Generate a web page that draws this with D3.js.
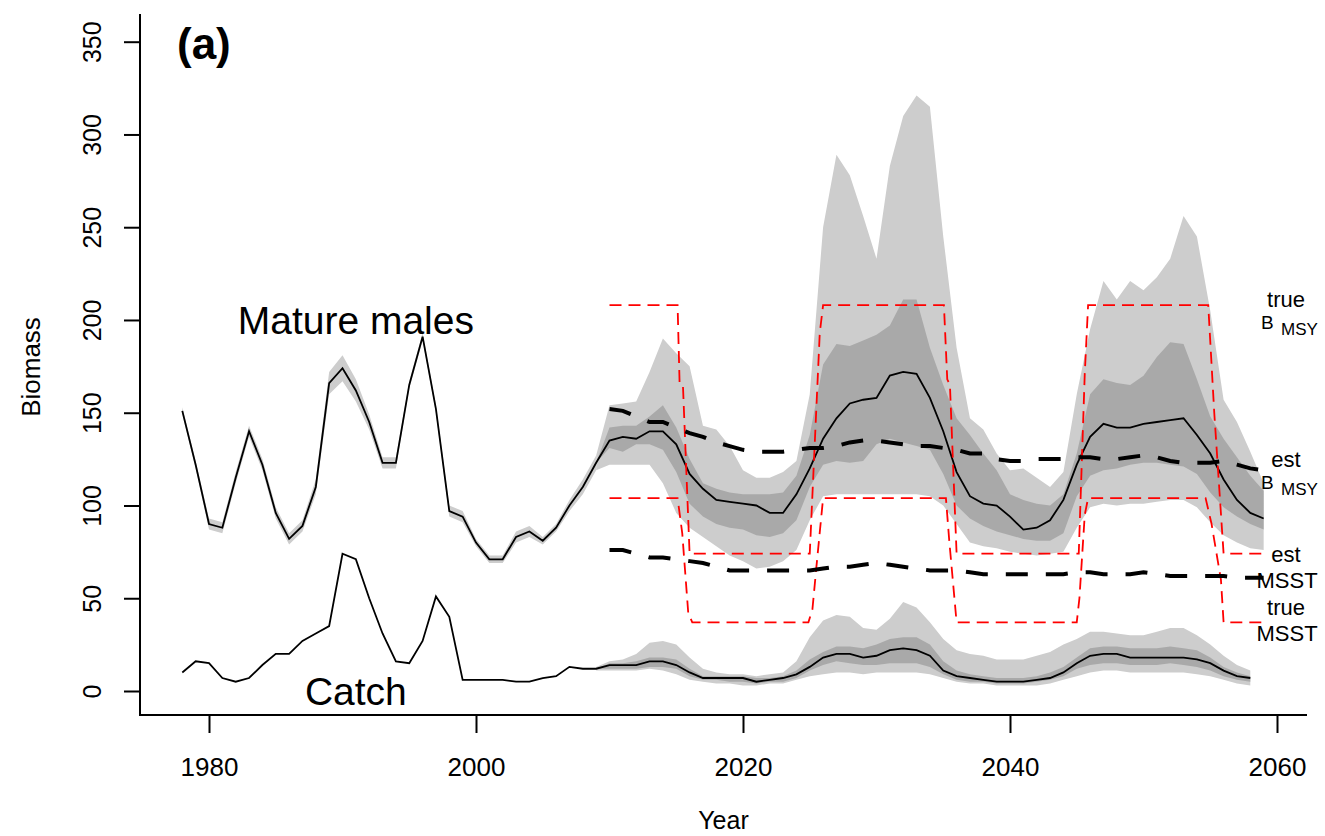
<!DOCTYPE html>
<html>
<head>
<meta charset="utf-8">
<script src="https://cdn.jsdelivr.net/npm/d3@7"></script>
<style>
  body { margin: 0; background: #fff; }
  svg { display: block; font-family: "Liberation Sans", Arial, sans-serif; }
</style>
</head>
<body>
<svg width="1325" height="836"></svg>
<script>
// ---- historical period (1978-2009) ----
const histYears = d3.range(1978, 2010);
const histMales = [151,122,90,88,115,140,122,96,82,89,110,166,174,162,145,123,123,165,191,152,97,94,80,71,71,83,86,81,88,100,110,123];
const histSpread = [2,2,3,3,3,3,3,3,3,3,4,6,7,6,4,3,3,2,2,2,3,3,2,2,2,3,3,2,2,3,4,4];
const histCatch = [10,16,15,7,5,7,14,20,20,27,31,35,74,71,50,31,16,15,27,51,40,6,6,6,6,5,5,7,8,13,12,12];

// ---- projections, mature males (2010-2059) ----
const projYears = d3.range(2010, 2060);
const maleMed  = [135,137,136,140,140,133,117,109,103,102, 101,100,96,96,106,120,136,147,155,157, 158,170,172,171,158,140,118,105,101,100, 94,87,88,92,103,122,137,144,142,142, 144,145,146,147,138,128,114,103,96,93];
const maleHi95 = [154,155,156,172,190,182,175,143,141,132, 119,115,115,118,124,160,250,289,278,256, 233,283,310,321,315,245,185,147,141,128, 119,120,115,110,118,160,195,221,211,221, 216,223,233,256,245,205,157,145,129,112];
const maleHi50 = [142,143,143,148,154,142,125,112,109,107, 106,106,106,107,116,138,176,187,186,189, 192,197,211,211,185,165,147,138,128,119, 106,103,101,100,106,128,160,168,166,165, 170,180,188,187,168,148,136,126,116,108];
const maleLo50 = [131,129,133,133,130,118,101,94,90,88, 87,84,83,85,92,110,122,124,123,124, 133,136,134,132,130,117,100,93,89,86, 84,82,81,81,85,105,116,119,120,122, 123,123,122,121,117,107,99,94,90,87];
const maleLo95 = [122,122,122,122,112,96,88,83,78,73, 70,66,67,70,76,92,105,106,106,106, 106,106,106,106,105,100,90,80,78,77, 75,74,73,74,75,88,99,101,100,101, 101,102,103,103,99,91,84,80,77,76];

// ---- projections, catch (2010-2058) ----
const catchYears = d3.range(2010, 2059);
const catchMed  = [14,14,14,16,16,14,10,7,7,7, 7,5,6,7,9,13,18,20,20,18, 19,22,23,22,19,11,8,7,6,5, 5,5,6,7,10,15,19,20,20,18, 18,18,18,18,17,15,11,8,7];
const catchHi95 = [16,17,20,26,27,25,18,12,10,9, 9,8,9,10,16,29,38,41,40,34, 33,39,48,45,37,28,22,20,19,17, 17,17,19,21,25,28,32,32,31,30, 30,32,34,34,30,25,19,14,11];
const catchHi50 = [15,15,16,18,18,17,12,8,8,8, 8,7,7,8,11,17,21,24,24,23, 25,28,29,29,25,16,11,9,8,7, 7,7,8,10,13,18,23,24,24,23, 23,23,24,23,22,18,13,10,8];
const catchLo50 = [12,12,12,13,13,12,8,6,6,5, 5,4,5,5,7,11,14,16,15,14, 14,15,15,15,13,9,6,5,5,4, 4,4,5,6,8,12,14,15,15,14, 14,14,15,14,13,11,8,6,5];
const catchLo95 = [11,11,11,12,11,9,6,5,4,4, 3,3,4,4,6,8,9,10,10,9, 10,10,10,10,9,7,5,4,4,3, 3,3,3,4,6,8,10,11,11,10, 10,10,10,10,9,8,6,4,3];

// ---- estimated reference points (black dashed) ----
const estBmsy = [152,151,148,145,145,142,139,137,134,132, 130,129,129,129,130,131,131,132,134,135, 135,134,133,132,132,131,130,128,128,125, 124,124,125,125,125,126,126,125,125,126, 127,126,124,123,123,123,124,122,120,119];
const estMsst = [76,76,74,72,72,71,70,69,67,65, 65,65,65,65,65,65,66,67,67,68, 69,68,67,66,65,65,65,64,63,63, 63,63,63,63,63,64,64,63,63,63, 64,63,62,62,62,62,62,61,61,61];

// ---- true reference points (red dashed, regime shifts) ----
const trueBmsyYears = [2010,2015.1,2015.25,2015.5,2016,2025,2025.75,2026,2035.05,2035.3,2035.5,2036,2045.15,2045.6,2045.85,2054.85,2055.3,2056,2059];
const trueBmsyVals  = [208,208,166,165,74,74,193,208,208,168,165,74,74,171,208,208,150,74,74];
const trueMsstYears = [2010,2015.1,2015.45,2015.9,2016.2,2024.9,2025.2,2025.5,2026,2035.2,2035.45,2036,2045,2045.2,2045.6,2045.85,2054.65,2055.1,2055.8,2056,2059];
const trueMsstVals  = [104,104,85,42,37,37,44,67,104,104,81,37,37,50,95,104,104,90,60,37,37];

// right-hand labels
const refLabels = [
  {sup: "true", main: "B", sub: "MSY", val: 203},
  {sup: "est",  main: "B", sub: "MSY", val: 117},
  {sup: "est",  main: "",  sub: "MSST", val: 66},
  {sup: "true", main: "",  sub: "MSST", val: 37}
];

const xTicks = [1980, 2000, 2020, 2040, 2060];
const yTicks = [0, 50, 100, 150, 200, 250, 300, 350];

const svg = d3.select("svg");
const plotLeft = 140, plotRight = 1307, plotTop = 14, plotBottom = 715;

const x = d3.scaleLinear().domain([1980, 2060]).range([209, 1277]);
const y = d3.scaleLinear().domain([0, 350]).range([691, 41.7]);

const lightGrey = "#cdcdcd", darkGrey = "#a9a9a9";

// bands (projection bands open from the last observed year)
function band(years, lo, hi, fill) {
  const area = d3.area()
    .x((d, i) => x(years[i]))
    .y0((d, i) => y(lo[i]))
    .y1((d, i) => y(hi[i]));
  svg.append("path").attr("d", area(years)).attr("fill", fill);
}

const lastYear = histYears[histYears.length - 1];
const lastMale = histMales[histMales.length - 1];
const lastCatch = histCatch[histCatch.length - 1];

band(histYears, histMales.map((v, i) => v - histSpread[i]), histMales.map((v, i) => v + histSpread[i]), lightGrey);
band([lastYear, ...projYears], [lastMale - 4, ...maleLo95], [lastMale + 4, ...maleHi95], lightGrey);
band([lastYear, ...projYears], [lastMale, ...maleLo50], [lastMale, ...maleHi50], darkGrey);
band([lastYear, ...catchYears], [lastCatch - 1, ...catchLo95], [lastCatch + 1, ...catchHi95], lightGrey);
band([lastYear, ...catchYears], [lastCatch, ...catchLo50], [lastCatch, ...catchHi50], darkGrey);

// median lines
const line = d3.line().x(d => x(d[0])).y(d => y(d[1]));
const males = histYears.map((yr, i) => [yr, histMales[i]]).concat(projYears.map((yr, i) => [yr, maleMed[i]]));
const catches = histYears.map((yr, i) => [yr, histCatch[i]]).concat(catchYears.map((yr, i) => [yr, catchMed[i]]));

svg.append("path").attr("d", line(males)).attr("fill", "none").attr("stroke", "#000").attr("stroke-width", 1.8);
svg.append("path").attr("d", line(catches)).attr("fill", "none").attr("stroke", "#000").attr("stroke-width", 1.8);

// true reference points
[[trueBmsyYears, trueBmsyVals], [trueMsstYears, trueMsstVals]].forEach(([yrs, vals]) => {
  svg.append("path")
    .attr("d", line(yrs.map((yr, i) => [yr, vals[i]])))
    .attr("fill", "none").attr("stroke", "#ff0000").attr("stroke-width", 1.8)
    .attr("stroke-dasharray", "12,7");
});

// estimated reference points
[estBmsy, estMsst].forEach(vals => {
  svg.append("path")
    .attr("d", line(projYears.map((yr, i) => [yr, vals[i]])))
    .attr("fill", "none").attr("stroke", "#000").attr("stroke-width", 4)
    .attr("stroke-dasharray", "22,18");
});

// axes
const xAxis = svg.append("g")
  .attr("transform", `translate(0,${plotBottom})`)
  .call(d3.axisBottom(x).tickValues(xTicks).tickSize(18).tickFormat(d3.format("d")));
xAxis.select(".domain").remove();
xAxis.selectAll("line").attr("stroke", "#000").attr("stroke-width", 2);
xAxis.selectAll("text").attr("y", 61).attr("dy", 0).attr("font-size", 26).attr("fill", "#000")
  .attr("font-family", "Liberation Sans, Arial, sans-serif");

const yAxis = svg.append("g")
  .attr("transform", `translate(${plotLeft},0)`)
  .call(d3.axisLeft(y).tickValues(yTicks).tickSize(16));
yAxis.select(".domain").remove();
yAxis.selectAll("line").attr("stroke", "#000").attr("stroke-width", 2);
yAxis.selectAll("text")
  .attr("x", null).attr("dy", null)
  .attr("transform", "translate(-39,0) rotate(-90)")
  .attr("text-anchor", "middle")
  .attr("font-size", 25).attr("fill", "#000")
  .attr("font-family", "Liberation Sans, Arial, sans-serif");

// L-shaped box
svg.append("path")
  .attr("d", `M${plotLeft},${plotTop}V${plotBottom}H${plotRight}`)
  .attr("fill", "none").attr("stroke", "#000").attr("stroke-width", 2);

// titles
svg.append("text").attr("x", (plotLeft + plotRight) / 2).attr("y", 829)
  .attr("text-anchor", "middle").attr("font-size", 25).text("Year");
svg.append("text").attr("transform", `translate(40,367) rotate(-90)`)
  .attr("text-anchor", "middle").attr("font-size", 26).text("Biomass");
svg.append("text").attr("x", 177).attr("y", 59).attr("font-size", 44).attr("font-weight", "bold").text("(a)");

// series labels
svg.append("text").attr("x", x(1991)).attr("y", y(200)).attr("dy", "0.36em")
  .attr("text-anchor", "middle").attr("font-size", 39).text("Mature males");
svg.append("text").attr("x", x(1991)).attr("y", y(0)).attr("dy", "0.36em")
  .attr("text-anchor", "middle").attr("font-size", 39).text("Catch");

// reference point labels on the right
refLabels.forEach(d => {
  const g = svg.append("g").attr("transform", `translate(${x(2060.9)},${y(d.val)})`);
  g.append("text").attr("x", -3).attr("y", -7).attr("text-anchor", "middle").attr("font-size", 22).text(d.sup);
  if (d.main) {
    g.append("text").attr("x", -28).attr("y", 15).attr("font-size", 19).text(d.main);
    g.append("text").attr("x", -8).attr("y", 21).attr("font-size", 17).text(d.sub);
  } else {
    g.append("text").attr("x", -2).attr("y", 19).attr("text-anchor", "middle").attr("font-size", 22).text(d.sub);
  }
});
</script>
</body>
</html>
